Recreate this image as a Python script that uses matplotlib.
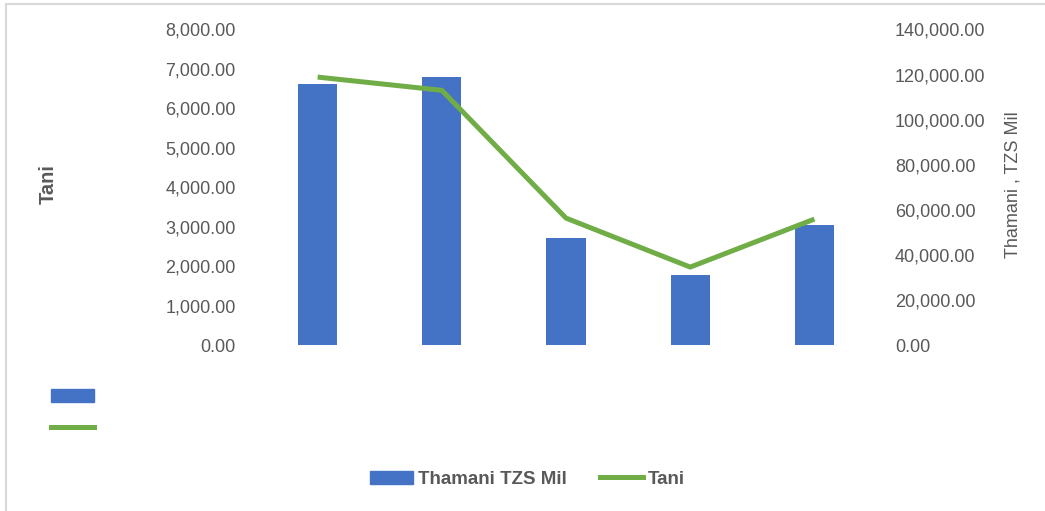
#
# bar + line chart, Thamani TZS Mil (right axis) vs Tani (left axis)
#

import matplotlib
matplotlib.use("Agg")
import matplotlib.pyplot as plt
from matplotlib.patches import Patch, Rectangle
from matplotlib.lines import Line2D
from matplotlib.ticker import FuncFormatter

# data
categories = ["", "", "", "", ""]
thamani = [115700, 118800, 47550, 31200, 53300]   # TZS Mil, bars, right axis
tani = [6795, 6460, 3225, 1985, 3200]             # tonnes, line, left axis

col_bar = "#4472C4"
col_line = "#70AD47"
col_txt = "#595959"

plt.rcParams["font.family"] = ["Liberation Sans", "DejaVu Sans"]

fig = plt.figure(figsize=(10.45, 5.11), dpi=100)
ax = fig.add_axes([0.2445, 0.3239, 0.5943, 0.6184])
ax2 = ax.twinx()

xs = list(range(len(categories)))

# bars on the secondary (right) axis, line on the primary (left) axis
ax2.bar(xs, thamani, width=0.315, color=col_bar, zorder=1)
ax.plot(xs, tani, color=col_line, lw=3.6, solid_capstyle="butt", zorder=3)
ax.set_zorder(ax2.get_zorder() + 1)
ax.patch.set_visible(False)

ax.set_xlim(-0.5, len(categories) - 0.5)
ax.set_ylim(0, 8000)
ax2.set_ylim(0, 140000)
ax.set_yticks(range(0, 8001, 1000))
ax2.set_yticks(range(0, 140001, 20000))
fmt = FuncFormatter(lambda v, p: "{:,.2f}".format(v))
ax.yaxis.set_major_formatter(fmt)
ax2.yaxis.set_major_formatter(fmt)
ax.set_xticks(xs)
ax.set_xticklabels(categories)

for a in (ax, ax2):
	for s in a.spines.values():
		s.set_visible(False)
	a.tick_params(length=0, labelsize=13, colors=col_txt)
ax.tick_params(axis="y", pad=14.4)
ax2.tick_params(axis="y", pad=13.3)

ax.set_ylabel("Tani", fontsize=14.5, fontweight="bold", color=col_txt)
ax.yaxis.set_label_coords(-0.318, 0.51)
ax2.set_ylabel("Thamani , TZS Mil", fontsize=13, color=col_txt)
ax2.yaxis.set_label_coords(1.206, 0.51)

# main legend at the bottom
handles = [Patch(color=col_bar), Line2D([], [], color=col_line, lw=3.6)]
leg = fig.legend(handles, ["Thamani TZS Mil", "Tani"], loc="center",
	bbox_to_anchor=(0.505, 0.062), ncol=2, frameon=False, fontsize=13.5,
	handlelength=2.3, handleheight=0.7, handletextpad=0.27, columnspacing=1.75)
for t in leg.get_texts():
	t.set_color(col_txt)
	t.set_fontweight("bold")

# stray legend keys without labels at the left
leg2 = fig.legend(handles, ["", ""], loc="upper left",
	bbox_to_anchor=(0.034, 0.268), frameon=False, fontsize=12,
	handlelength=2.6, handleheight=0.8, labelspacing=1.0, handletextpad=0)

# light chart border
fig.patches.append(Rectangle((5.5 / 1045, -0.1), 1.1, 1.1 - 4 / 511,
	transform=fig.transFigure, fill=False, edgecolor="#D9D9D9", lw=1.5))

fig.savefig("out.png", dpi=100)
